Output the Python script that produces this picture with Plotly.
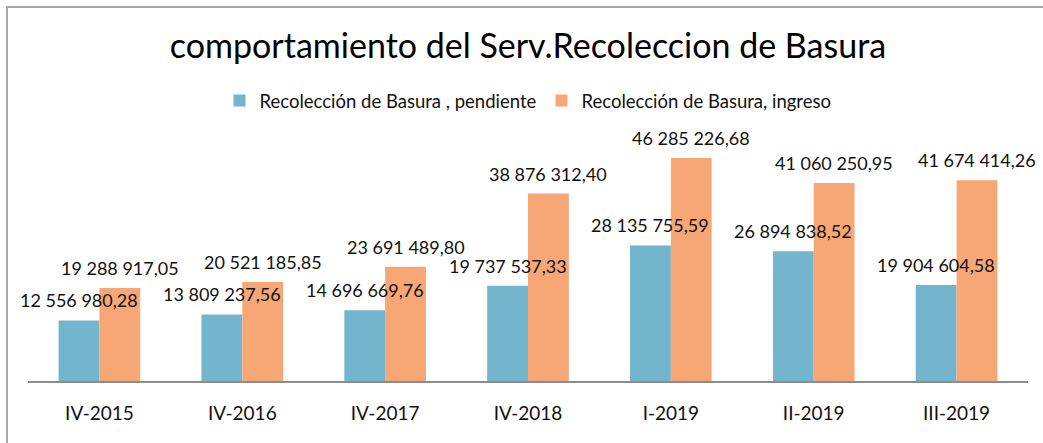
import plotly.graph_objects as go

categories = ["IV-2015", "IV-2016", "IV-2017", "IV-2018", "I-2019", "II-2019", "III-2019"]
pendiente = [12556980.28, 13809237.56, 14696669.76, 19737537.33, 28135755.59, 26894838.52, 19904604.58]
ingreso = [19288917.05, 20521185.85, 23691489.80, 38876312.40, 46285226.68, 41060250.95, 41674414.26]
series_names = ["Recolección de Basura , pendiente", "Recolección de Basura, ingreso"]
colors = ["#72B5CC", "#F6A775"]

def fmt(v):
    s = f"{v:,.2f}"
    return s.replace(",", " ").replace(".", ",")

W, H = 1043, 443
ML, MR, MT, MB = 28, 15, 140, 62
bargap = 1.5 / 3.5
plot_w = W - ML - MR
bar_w = plot_w / len(categories) * (1 - bargap) / 2

fig = go.Figure()
for name, vals, col in zip(series_names, [pendiente, ingreso], colors):
    fig.add_trace(go.Bar(x=categories, y=vals, name=name, marker=dict(color=col, line=dict(width=0))))

annotations = []
for k, vals in enumerate([pendiente, ingreso]):
    shift = (k - 0.5) * bar_w
    for c, v in zip(categories, vals):
        annotations.append(dict(
            x=c, y=v, xref="x", yref="y", text=fmt(v), showarrow=False,
            xanchor="center", yanchor="bottom", xshift=shift, yshift=7,
            font=dict(family="Lato", size=18, color="#111111")))

fig.update_layout(
    template="none",
    width=W, height=H, autosize=False,
    margin=dict(l=ML, r=MR, t=MT, b=MB, autoexpand=False),
    paper_bgcolor="white", plot_bgcolor="white",
    barmode="group", bargap=bargap, bargroupgap=0,
    title=dict(text="comportamiento del Serv.Recoleccion de Basura",
               font=dict(family="Lato", size=34, color="#000000"),
               x=0.5, xref="paper", xanchor="center",
               y=1 - 46 / H, yref="container", yanchor="middle"),
    legend=dict(orientation="h", x=0.5, xanchor="center", y=1 - 101 / H, yref="container",
                yanchor="middle", font=dict(family="Lato", size=18.5, color="#111111"),
                itemwidth=30, traceorder="normal", bgcolor="rgba(0,0,0,0)"),
    xaxis=dict(range=[-0.5, len(categories) - 0.5], showline=True, linecolor="#8C8C8C", linewidth=2,
               showgrid=False, ticks="", tickfont=dict(family="Lato", size=19, color="#111111"),
               ticklabelstandoff=14, zeroline=False, automargin=False),
    yaxis=dict(range=[0, 50e6], visible=False, showgrid=False, zeroline=False, automargin=False),
    annotations=annotations,
    shapes=[dict(type="rect", xref="paper", yref="paper",
                 x0=(7 - ML) / plot_w, x1=2, y0=-2, y1=(H - MB - 7) / (H - MT - MB),
                 line=dict(color="#A6A6A6", width=2), fillcolor="rgba(0,0,0,0)", layer="below")],
    showlegend=True,
)

post = ("document.body.style.margin='0';document.body.style.overflow='hidden';"
        "var gd=document.getElementById('{plot_id}');"
        "Plotly.relayout(gd,{width:%d,height:%d});" % (W, H))
fig.write_html("out.html", post_script=post, config={"responsive": False, "displayModeBar": False})
